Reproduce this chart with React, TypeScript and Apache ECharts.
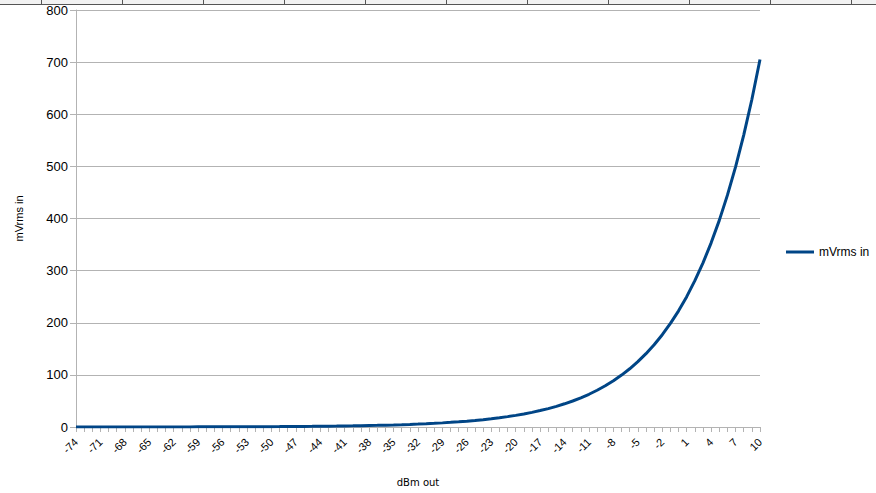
import React, { useEffect, useRef } from "react";
import * as echarts from "echarts";

const categories: string[] = [
  "-74","-73","-72","-71","-70","-69","-68","-67","-66","-65","-64","-63","-62","-61","-60",
  "-59","-58","-57","-56","-55","-54","-53","-52","-51","-50","-49","-48","-47","-46","-45",
  "-44","-43","-42","-41","-40","-39","-38","-37","-36","-35","-34","-33","-32","-31","-30",
  "-29","-28","-27","-26","-25","-24","-23","-22","-21","-20","-19","-18","-17","-16","-15",
  "-14","-13","-12","-11","-10","-9","-8","-7","-6","-5","-4","-3","-2","-1","0",
  "1","2","3","4","5","6","7","8","9","10"
];

const mVrmsIn: number[] = [
  0.04,0.05,0.06,0.06,0.07,0.08,0.09,0.10,0.11,0.13,0.14,0.16,0.18,0.20,0.22,
  0.25,0.28,0.31,0.35,0.40,0.44,0.50,0.56,0.63,0.70,0.79,0.89,1.00,1.12,1.25,
  1.41,1.58,1.77,1.99,2.23,2.50,2.81,3.15,3.53,3.96,4.45,4.99,5.60,6.28,7.05,
  7.91,8.88,9.96,11.2,12.5,14.1,15.8,17.7,19.9,22.3,25.0,28.1,31.5,35.3,39.6,
  44.5,49.9,56.0,62.8,70.5,79.1,88.8,99.6,111.7,125.4,140.7,157.8,177.1,198.7,222.9,
  250.1,280.7,314.9,353.3,396.4,444.8,499.1,560.0,628.3,705.0
];

const seriesName = "mVrms in";
const xName = "dBm out";
const yName = "mVrms in";
const sheetColumnX: number[] = [41, 122, 203, 284, 365, 446, 527, 608, 689, 770, 851];

export default function App() {
  const ref = useRef<HTMLDivElement>(null);
  useEffect(() => {
    if (!ref.current) return;
    const chart = echarts.init(ref.current, null, { renderer: "svg" });
    const font = "'Liberation Sans', Arial, sans-serif";
    const graphics: any[] = [
      { type: "rect", shape: { x: 0, y: 0, width: 876, height: 4 }, style: { fill: "#f2f2f2" } },
      { type: "line", shape: { x1: 0, y1: 4.5, x2: 876, y2: 4.5 }, style: { stroke: "#555555", lineWidth: 1 } },
      ...sheetColumnX.map((x) => ({
        type: "line",
        shape: { x1: x + 0.5, y1: 0, x2: x + 0.5, y2: 4 },
        style: { stroke: "#555555", lineWidth: 1 },
      })),
    ];
    chart.setOption({
      animation: false,
      backgroundColor: "#ffffff",
      textStyle: { fontFamily: font },
      graphic: graphics,
      grid: { left: 76, right: 116, top: 10, bottom: 66, containLabel: false },
      legend: {
        orient: "vertical",
        left: 781,
        top: 241,
        itemWidth: 28,
        itemHeight: 3,
        itemGap: 4,
        icon: "rect",
        textStyle: { fontFamily: font, fontSize: 12, color: "#000000" },
        data: [{ name: seriesName, icon: "rect" }],
      },
      xAxis: {
        type: "category",
        data: categories,
        boundaryGap: false,
        name: xName,
        nameLocation: "middle",
        nameGap: 50,
        nameTextStyle: { fontFamily: "'DejaVu Sans', sans-serif", fontSize: 10, color: "#000000" },
        axisLine: { show: true, lineStyle: { color: "#b3b3b3", width: 1 } },
        axisTick: { show: true, interval: 0, length: 5, lineStyle: { color: "#b3b3b3" } },
        axisLabel: {
          interval: 2,
          rotate: 45,
          fontFamily: font,
          fontSize: 11,
          color: "#000000",
          margin: 13,
        },
        splitLine: { show: false },
      },
      yAxis: {
        type: "value",
        min: 0,
        max: 800,
        interval: 100,
        name: yName,
        nameLocation: "middle",
        nameGap: 52,
        nameRotate: 90,
        nameTextStyle: { fontFamily: font, fontSize: 11, color: "#000000" },
        axisLine: { show: true, lineStyle: { color: "#b3b3b3", width: 1 } },
        axisTick: { show: true, length: 6, lineStyle: { color: "#b3b3b3" } },
        axisLabel: { fontFamily: font, fontSize: 13, color: "#000000", margin: 8 },
        splitLine: { show: true, lineStyle: { color: "#b3b3b3", width: 1 } },
      },
      series: [
        {
          name: seriesName,
          type: "line",
          data: mVrmsIn,
          showSymbol: false,
          symbol: "none",
          smooth: false,
          lineStyle: { color: "#004586", width: 3 },
          itemStyle: { color: "#004586" },
        },
      ],
    });
    return () => chart.dispose();
  }, []);
  return (
    <div
      ref={ref}
      style={{ position: "fixed", left: 0, top: 0, width: 876, height: 493, background: "#fff" }}
    />
  );
}
